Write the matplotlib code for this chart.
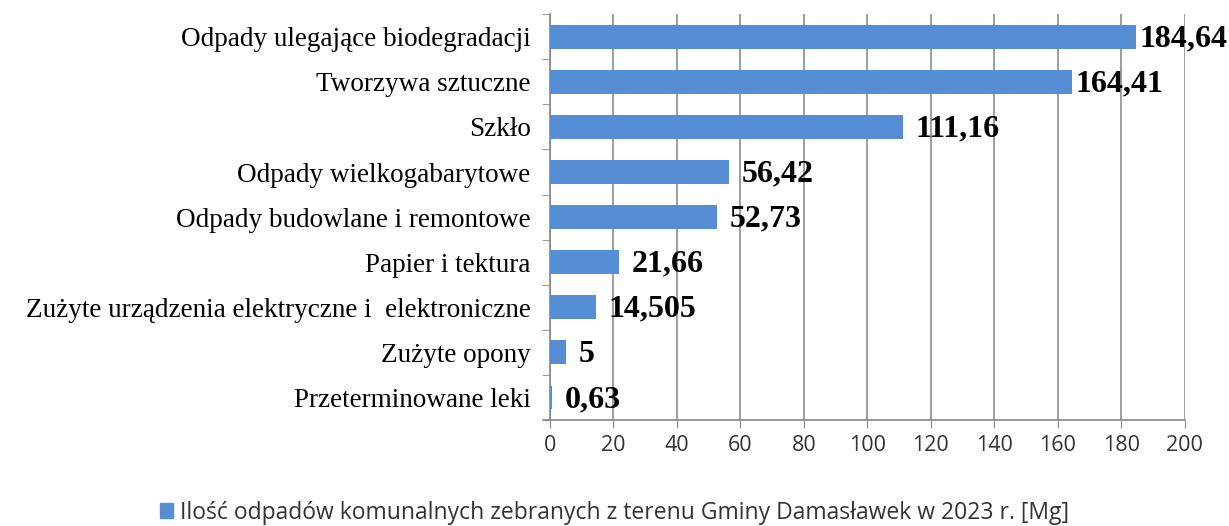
import numpy as np
import matplotlib.pyplot as plt
from matplotlib.patches import Patch

categories = [
    "Odpady ulegające biodegradacji",
    "Tworzywa sztuczne",
    "Szkło",
    "Odpady wielkogabarytowe",
    "Odpady budowlane i remontowe",
    "Papier i tektura",
    "Zużyte urządzenia elektryczne i  elektroniczne",
    "Zużyte opony",
    "Przeterminowane leki",
]
values = [184.64, 164.41, 111.16, 56.42, 52.73, 21.66, 14.505, 5, 0.63]
value_labels = ["184,64", "164,41", "111,16", "56,42", "52,73", "21,66", "14,505", "5", "0,63"]
legend_label = "Ilość odpadów komunalnych zebranych z terenu Gminy Damasławek w 2023 r. [Mg]"

bar_color = "#558ed5"

fig = plt.figure(figsize=(12.29, 5.26), dpi=100)
ax = fig.add_axes([0.4475, 0.2015, 0.5165, 0.7715])

y = np.arange(len(categories))
ax.barh(y, values, height=0.53, color=bar_color, zorder=3)

ax.set_xlim(0, 200)
ax.set_ylim(len(categories) - 0.5, -0.5)
ax.set_xticks(np.arange(0, 201, 20))
ax.set_xticklabels([str(v) for v in range(0, 201, 20)], fontsize=15.5,
                   family="Open Sans", color="#333333")
ax.set_yticks(y)
ax.set_yticklabels(categories, fontsize=19.5, family="Liberation Serif")
ax.set_yticks(np.arange(-0.5, len(categories), 1), minor=True)
ax.tick_params(axis="y", which="major", length=0, pad=14)
ax.tick_params(axis="y", which="minor", length=6, color="#888888", direction="out")
ax.tick_params(axis="x", length=6, color="#888888", pad=5)

ax.grid(axis="x", color="#8c8c8c", linewidth=1.2, zorder=0)
for s in ["top", "right"]:
    ax.spines[s].set_visible(False)
ax.spines["left"].set_color("#888888")
ax.spines["bottom"].set_color("#888888")
ax.spines["left"].set_linewidth(1.2)
ax.spines["bottom"].set_linewidth(1.2)
# bottom axis line pokes a little past the y axis, like the original
ax.spines["bottom"].set_bounds(-2.2, 200)

# long bars: labels squeezed close to the bar end (no room on the right)
for yi, v, lab in zip(y, values, value_labels):
    off = 2.5 if v > 150 else 9
    ax.annotate(lab, (v, yi), xytext=(off, -1.5), textcoords="offset points",
                va="center", ha="left", fontsize=23, fontweight="bold",
                family="Liberation Serif", zorder=4)

fig.legend(handles=[Patch(color=bar_color, label=legend_label)],
           loc="center", bbox_to_anchor=(0.5, 0.025), frameon=False,
           prop={"family": "Open Sans", "size": 16.5},
           handlelength=0.6, handleheight=0.6, handletextpad=0.3,
           labelcolor="#333333")

fig.savefig("out.png", dpi=100)
